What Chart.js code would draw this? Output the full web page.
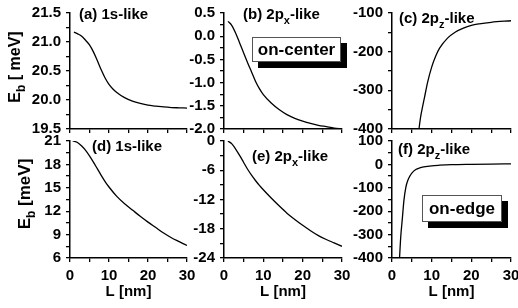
<!DOCTYPE html>
<html>
<head>
<meta charset="utf-8">
<script src="https://cdn.jsdelivr.net/npm/chart.js@4.4.1/dist/chart.umd.min.js"></script>
<style>
  body { margin: 0; background: #fff; }
  #wrap { position: relative; width: 518px; height: 308px; overflow: hidden; }
  canvas { position: absolute; }
</style>
</head>
<body>
<div id="wrap">
  <canvas id="pa" width="200" height="136" style="left:0px;top:0px"></canvas>
  <canvas id="pb" width="172" height="136" style="left:186px;top:0px"></canvas>
  <canvas id="pc" width="172" height="136" style="left:346px;top:0px"></canvas>
  <canvas id="pd" width="200" height="180" style="left:0px;top:128px"></canvas>
  <canvas id="pe" width="172" height="180" style="left:186px;top:128px"></canvas>
  <canvas id="pf" width="172" height="180" style="left:346px;top:128px"></canvas>
</div>
<script>
// L in nm, binding energies in meV
const xTickLabels = [0, 10, 20, 30];

// (a) 1s-like, on-center
const L_a  = [1, 2, 3, 4, 5, 6, 7, 8, 9, 10, 11, 12, 14, 16, 18, 20, 22, 24, 26, 28, 30];
const Eb_a = [21.17, 21.14, 21.10, 21.03, 20.95, 20.83, 20.68, 20.52, 20.38, 20.27, 20.19, 20.13, 20.04, 19.98, 19.94, 19.91, 19.895, 19.88, 19.87, 19.865, 19.86];
const yTicks_a = [19.5, 20.0, 20.5, 21.0, 21.5];

// (b) 2px-like, on-center
const L_b  = [1, 2, 3, 4, 5, 6, 7, 8, 9, 10, 12, 14, 16, 18, 20, 22, 24, 26, 28, 30];
const Eb_b = [0.32, 0.23, 0.06, -0.15, -0.36, -0.57, -0.77, -0.97, -1.13, -1.26, -1.44, -1.58, -1.69, -1.77, -1.83, -1.88, -1.92, -1.95, -1.98, -2.0];
const yTicks_b = [-2.0, -1.5, -1.0, -0.5, 0.0, 0.5];

// (c) 2pz-like, on-center
const L_c  = [6.8, 7.2, 7.7, 8.2, 9, 10, 11, 12, 14, 16, 18, 20, 22, 25, 30];
const Eb_c = [-400, -370, -343, -318, -278, -240, -212, -191, -165, -149, -139, -132, -128, -124, -120];
const yTicks_c = [-400, -300, -200, -100];

// (d) 1s-like, on-edge
const L_d  = [0.7, 1, 2, 3, 4, 5, 6, 7, 8, 9, 10, 12, 14, 16, 18, 20, 22, 24, 26, 28, 30];
const Eb_d = [21.0, 20.97, 20.78, 20.35, 19.8, 19.1, 18.3, 17.45, 16.6, 15.8, 15.1, 13.9, 12.95, 12.15, 11.35, 10.6, 9.9, 9.2, 8.6, 8.1, 7.6];
const yTicks_d = [6, 9, 12, 15, 18, 21];

// (e) 2px-like, on-edge
const L_e  = [1, 2, 3, 4, 5, 6, 7, 8, 9, 10, 12, 14, 16, 18, 20, 22, 24, 26, 28, 30];
const Eb_e = [0, -0.6, -1.7, -3.0, -4.4, -5.8, -7.0, -8.1, -9.1, -10.0, -11.7, -13.3, -14.8, -16.1, -17.3, -18.4, -19.4, -20.2, -20.9, -21.6];
const yTicks_e = [-24, -18, -12, -6, 0];

// (f) 2pz-like, on-edge
const L_f  = [1.9, 2.2, 2.6, 3, 3.5, 4, 4.5, 5, 6, 7, 8, 10, 12, 15, 20, 25, 30];
const Eb_f = [-400, -310, -233, -155, -97, -68, -50, -37, -22, -15, -11, -6, -3.5, -1, 0.5, 1.5, 2];
const yTicks_f = [-400, -300, -200, -100, 0, 100];

const FAM = '"Liberation Sans", Arial, sans-serif';

function isMajor(v, arr) {
  return arr.some(t => Math.abs(t - v) < 1e-6);
}

// text with subscripts: parts = [{t:'E'}, {t:'b', s:1}, ...]
function drawParts(ctx, parts, size, x, y, align) {
  const main = 'bold ' + size + 'px ' + FAM;
  const sub = 'bold ' + Math.round(size * 0.72) + 'px ' + FAM;
  let w = 0;
  parts.forEach(p => { ctx.font = p.s ? sub : main; w += ctx.measureText(p.t).width; });
  let cx = align === 'center' ? x - w / 2 : x;
  ctx.textBaseline = 'middle';
  ctx.textAlign = 'left';
  ctx.fillStyle = '#000';
  parts.forEach(p => {
    ctx.font = p.s ? sub : main;
    ctx.fillText(p.t, cx, y + (p.s ? size * 0.38 : 0));
    cx += ctx.measureText(p.t).width;
  });
}

const panelText = {
  id: 'panelText',
  afterDraw(chart, args, o) {
    const ctx = chart.ctx;
    ctx.save();
    if (o.label) drawParts(ctx, o.label, 15, o.lx, o.ly, 'left');
    if (o.ytitle) {
      ctx.save();
      ctx.translate(o.tx, o.ty);
      ctx.rotate(-Math.PI / 2);
      drawParts(ctx, o.ytitle, o.tsize, 0, 0, 'center');
      ctx.restore();
    }
    if (o.box) {
      const b = o.box;
      ctx.fillStyle = '#000';
      ctx.fillRect(b.x + 6, b.y + 6, b.w, b.h);
      ctx.fillStyle = '#fff';
      ctx.fillRect(b.x, b.y, b.w, b.h);
      ctx.strokeStyle = '#555';
      ctx.lineWidth = 1;
      ctx.strokeRect(b.x + 0.5, b.y + 0.5, b.w - 1, b.h - 1);
      ctx.fillStyle = '#000';
      ctx.font = 'bold 17px ' + FAM;
      ctx.textAlign = 'center';
      ctx.textBaseline = 'middle';
      ctx.fillText(b.text, b.x + b.w / 2, b.y + b.h / 2 + 1);
    }
    ctx.restore();
  }
};

function panel(id, xs, ys, yTicks, dec, o) {
  const yStep = (yTicks[1] - yTicks[0]) / 2;
  return new Chart(document.getElementById(id), {
    type: 'line',
    data: {
      datasets: [{
        data: xs.map((x, i) => ({ x: x, y: ys[i] })),
        borderColor: '#000',
        borderWidth: 1.3,
        pointRadius: 0,
        cubicInterpolationMode: 'monotone',
        fill: false
      }]
    },
    options: {
      responsive: false,
      animation: false,
      events: [],
      layout: { padding: o.pad },
      plugins: {
        legend: { display: false },
        tooltip: { enabled: false },
        panelText: o.text
      },
      scales: {
        x: {
          type: 'linear', min: 0, max: 30,
          afterFit: s => { s.height = o.xh; s.paddingLeft = 0; s.paddingRight = 0; },
          ticks: {
            display: o.showX, stepSize: 5, autoSkip: false, maxRotation: 0,
            color: '#000', padding: 5,
            font: { family: FAM, size: 15, weight: 'bold' },
            callback: v => isMajor(v, xTickLabels) ? String(v) : ''
          },
          grid: { drawOnChartArea: false, drawTicks: true, tickLength: 4, color: '#000', lineWidth: 1.3 },
          border: { color: '#000', width: 1.5 },
          title: {
            display: o.showX, text: 'L [nm]', color: '#000',
            font: { family: FAM, size: 15, weight: 'bold' },
            padding: { top: 0, bottom: 7 }
          }
        },
        y: {
          min: yTicks[0], max: yTicks[yTicks.length - 1],
          afterFit: s => { s.width = o.yw; s.paddingTop = 0; s.paddingBottom = 0; },
          ticks: {
            stepSize: yStep, autoSkip: false, color: '#000', padding: 5,
            font: { family: FAM, size: 15, weight: 'bold' },
            callback: v => isMajor(v, yTicks) ? Number(v).toFixed(dec) : ''
          },
          grid: { drawOnChartArea: false, drawTicks: true, tickLength: 4, color: '#000', lineWidth: 1.3 },
          border: { color: '#000', width: 1.5 }
        }
      }
    },
    plugins: [panelText]
  });
}

const EbTop = [{ t: 'E' }, { t: 'b', s: 1 }, { t: ' [ meV]' }];
const EbBot = [{ t: 'E' }, { t: 'b', s: 1 }, { t: ' [meV]' }];

panel('pa', L_a, Eb_a, yTicks_a, 1, {
  pad: { top: 13, right: 13, bottom: 0, left: 0 }, xh: 7, yw: 70, showX: false,
  text: { label: [{ t: '(a) 1s-like' }], lx: 79, ly: 15, ytitle: EbTop, tx: 16, ty: 67, tsize: 16 }
});
panel('pb', L_b, Eb_b, yTicks_b, 1, {
  pad: { top: 13, right: 16, bottom: 0, left: 0 }, xh: 7, yw: 38, showX: false,
  text: { label: [{ t: '(b) 2p' }, { t: 'x', s: 1 }, { t: '-like' }], lx: 57, ly: 15,
          box: { x: 66, y: 37, w: 89, h: 25, text: 'on-center' } }
});
panel('pc', L_c, Eb_c, yTicks_c, 0, {
  pad: { top: 13, right: 7, bottom: 0, left: 0 }, xh: 7, yw: 46, showX: false,
  text: { label: [{ t: '(c) 2p' }, { t: 'z', s: 1 }, { t: '-like' }], lx: 53, ly: 19 }
});
panel('pd', L_d, Eb_d, yTicks_d, 0, {
  pad: { top: 13, right: 13, bottom: 0, left: 0 }, xh: 50, yw: 70, showX: true,
  text: { label: [{ t: '(d) 1s-like' }], lx: 92, ly: 19, ytitle: EbBot, tx: 25, ty: 66, tsize: 17 }
});
panel('pe', L_e, Eb_e, yTicks_e, 0, {
  pad: { top: 13, right: 16, bottom: 0, left: 0 }, xh: 50, yw: 38, showX: true,
  text: { label: [{ t: '(e) 2p' }, { t: 'x', s: 1 }, { t: '-like' }], lx: 66, ly: 29 }
});
panel('pf', L_f, Eb_f, yTicks_f, 0, {
  pad: { top: 13, right: 7, bottom: 0, left: 0 }, xh: 50, yw: 46, showX: true,
  text: { label: [{ t: '(f) 2p' }, { t: 'z', s: 1 }, { t: '-like' }], lx: 52, ly: 22,
          box: { x: 76, y: 67, w: 80, h: 27, text: 'on-edge' } }
});
</script>
</body>
</html>
